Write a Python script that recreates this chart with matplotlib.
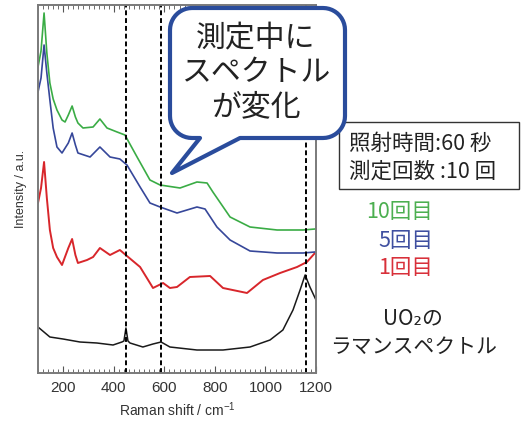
import matplotlib

matplotlib.use("Agg")
import matplotlib.pyplot as plt  # noqa: E402
import numpy as np  # noqa: E402
from matplotlib.path import Path  # noqa: E402
from matplotlib.patches import PathPatch, Rectangle  # noqa: E402
from matplotlib.ticker import MultipleLocator, NullLocator  # noqa: E402

JP = ["Noto Sans CJK JP", "DejaVu Sans"]
plt.rcParams["font.family"] = ["Liberation Sans", "DejaVu Sans"]
plt.rcParams["mathtext.default"] = "regular"

# Raman spectra (offset, arbitrary units)
shift_10 = [100, 112, 124, 135, 147, 160, 175, 195, 207, 220, 235, 248, 258, 278,
            318, 345, 373, 413, 444, 492, 543, 583, 662, 729, 769, 792, 860, 939,
            1046, 1149, 1196]
int_10 = [306, 322, 360, 320, 290, 274, 263, 253, 251, 258, 267, 256, 250, 245,
          246, 254, 245, 241, 238, 216, 193, 188, 185, 191, 190, 181, 156, 146,
          143, 143, 144]

shift_5 = [100, 112, 124, 135, 147, 160, 175, 195, 220, 235, 248, 258, 306, 345,
           385, 424, 452, 504, 543, 583, 650, 729, 761, 808, 860, 939, 1046, 1149,
           1196]
int_5 = [281, 295, 328, 300, 273, 245, 226, 220, 230, 240, 228, 220, 216, 226,
         216, 214, 208, 186, 170, 166, 160, 166, 164, 146, 133, 122, 120, 120,
         121]

shift_1 = [100, 112, 124, 135, 147, 160, 175, 195, 220, 235, 248, 258, 294, 318,
           345, 385, 424, 452, 504, 543, 555, 595, 622, 650, 701, 781, 832, 927,
           990, 1058, 1125, 1164, 1196]
int_1 = [170, 185, 211, 175, 143, 125, 116, 108, 125, 134, 118, 110, 113, 116,
         125, 118, 123, 117, 106, 90, 85, 90, 85, 86, 96, 97, 85, 80, 93, 100,
         106, 111, 120]

shift_uo2 = [100, 147, 199, 266, 333, 397, 432, 440, 448, 456, 464, 515, 555, 587,
             622, 729, 832, 939, 1018, 1069, 1109, 1137, 1157, 1176, 1200]
int_uo2 = [46, 36, 34, 31, 30, 28, 31, 32, 45, 32, 30, 26, 29, 31,
           26, 23, 23, 26, 33, 43, 63, 83, 98, 86, 73]

peak_lines = [447, 588, 1160]

fig = plt.figure(figsize=(5.27, 4.23), dpi=100)
ax = fig.add_axes([0.0721, 0.1182, 0.5275, 0.870])

ax.plot(shift_uo2, int_uo2, color="#1a1a1a", lw=1.1)
ax.plot(shift_1, int_1, color="#d8262b", lw=1.4)
ax.plot(shift_5, int_5, color="#36479a", lw=1.2)
ax.plot(shift_10, int_10, color="#3aac45", lw=1.2)
for x in peak_lines:
    ax.axvline(x, color="black", ls=(0, (2.5, 1.5)), lw=1.4)

ax.set_xlim(100, 1200)
ax.set_ylim(0, 368)
ax.xaxis.set_major_locator(MultipleLocator(200))
ax.xaxis.set_minor_locator(MultipleLocator(20))
ax.yaxis.set_major_locator(NullLocator())
ax.tick_params(axis="x", which="both", direction="in", top=True, colors="#555555",
               labelcolor="#333333", labelsize=11, pad=6)
ax.tick_params(axis="x", which="major", length=5)
ax.tick_params(axis="x", which="minor", length=3)
for s in ax.spines.values():
    s.set_color("#7a7a7a")
    s.set_linewidth(1.4)
ax.set_xlabel("Raman shift / cm$^{-1}$", fontsize=10, color="#333333", labelpad=4)
ax.set_ylabel("Intensity / a.u.", fontsize=9, color="#333333", labelpad=8)

# overlay in pixel coordinates for the annotations
ov = fig.add_axes([0, 0, 1, 1], zorder=5)
ov.set_xlim(0, 527)
ov.set_ylim(423, 0)
ov.axis("off")

ov.add_patch(Rectangle((339, 122), 180, 67, facecolor="white",
                       edgecolor="#333333", lw=1.0))
ov.text(349, 144, "照射時間:60 秒", family=JP, fontsize=15.5, va="center",
        color="#222222")
ov.text(349, 172, "測定回数 :10 回", family=JP, fontsize=15.5, va="center",
        color="#222222")


def callout(x0, y0, x1, y1, r, base0, base1, tip):
    verts = []

    def arc(cx, cy, a0, a1):
        for t in np.linspace(np.radians(a0), np.radians(a1), 12):
            verts.append((cx + r * np.cos(t), cy + r * np.sin(t)))

    arc(x0 + r, y0 + r, 180, 270)
    arc(x1 - r, y0 + r, 270, 360)
    arc(x1 - r, y1 - r, 0, 90)
    verts.append((base1, y1))
    verts.append(tip)
    verts.append((base0, y1))
    arc(x0 + r, y1 - r, 90, 180)
    verts.append(verts[0])
    codes = [Path.MOVETO] + [Path.LINETO] * (len(verts) - 2) + [Path.CLOSEPOLY]
    return PathPatch(Path(verts, codes), facecolor="white", edgecolor="#2a4c9c",
                     lw=3.0, joinstyle="round")


ov.add_patch(callout(170, 8, 345, 138, 22, 200, 240, (172, 173)))
ov.text(256, 73, "測定中に\nスペクトル\nが変化", family=JP, fontsize=21.5,
        ha="center", va="center", linespacing=1.12, color="#222222")

ov.text(433, 212, "10回目", family=JP, fontsize=15.5, ha="right", va="center",
        color="#4caf50")
ov.text(433, 241, "5回目", family=JP, fontsize=15.5, ha="right", va="center",
        color="#3f4fa0")
ov.text(433, 268, "1回目", family=JP, fontsize=15.5, ha="right", va="center",
        color="#d8303a")
ov.text(413, 318, "UO₂の", family=JP, fontsize=15, ha="center", va="center",
        color="#222222")
ov.text(414, 347, "ラマンスペクトル", family=JP, fontsize=15, ha="center",
        va="center", color="#222222")

fig.savefig("out.png", dpi=100)
